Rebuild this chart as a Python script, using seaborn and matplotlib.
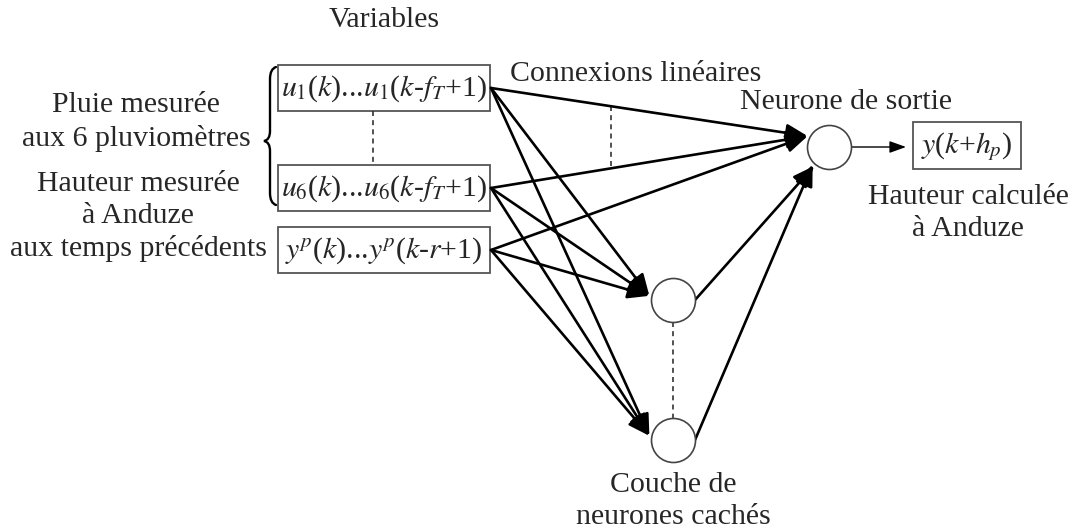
import numpy as np
import pandas as pd
import seaborn as sns
import matplotlib.pyplot as plt
from matplotlib.path import Path
import matplotlib.patches as mpatches

# --- labels of the diagram ---
title_text = "Variables"
input_labels = ["$u_1$($k$)...$u_1$($k$-$f_T$+1)",
                "$u_6$($k$)...$u_6$($k$-$f_T$+1)",
                "$y^p$($k$)...$y^p$($k$-$r$+1)"]
rain_lines = ["Pluie mesurée", "aux 6 pluviomètres"]
height_lines = ["Hauteur mesurée", "à Anduze", "aux temps précédents"]
links_text = "Connexions linéaires"
output_title = "Neurone de sortie"
output_label = "$y$($k$+$h_p$)"
output_lines = ["Hauteur calculée", "à Anduze"]
hidden_lines = ["Couche de", "neurones cachés"]
node_names = ["hidden_1", "hidden_n", "output"]

# --- layout (pixel space, y downwards) ---
W, H = 1078, 532
FS = 21.5
box_x0, box_x1 = 278, 490
box_y = [(65, 111), (165, 211), (227, 273)]
node_x = [673, 673, 829]
node_y = [300, 440, 147]
R = 22
out_box = (913, 122, 1021, 169)

sns.set_theme(style="white")
plt.rcParams['font.family'] = ['Liberation Serif', 'DejaVu Serif']
plt.rcParams['mathtext.fontset'] = 'stix'

fig = plt.figure(figsize=(W / 100, H / 100), dpi=100)
ax = fig.add_axes([0, 0, 1, 1])

nodes = pd.DataFrame({'name': node_names, 'x': node_x, 'y': node_y})
sns.scatterplot(data=nodes, x='x', y='y', s=(2 * R * 0.72) ** 2, marker='o',
                facecolor='white', edgecolor='#444444', linewidth=1.2,
                zorder=4, ax=ax, legend=False)

# input boxes
for (y0, y1), lab in zip(box_y, input_labels):
    ax.add_patch(mpatches.Rectangle((box_x0, y0), box_x1 - box_x0, y1 - y0,
                                    fill=False, ec='#555555', lw=1.3))
    ax.text((box_x0 + box_x1) / 2, (y0 + y1) / 2 + 1, lab, fontsize=FS,
            ha='center', va='center')

# output box
ox0, oy0, ox1, oy1 = out_box
ax.add_patch(mpatches.Rectangle((ox0, oy0), ox1 - ox0, oy1 - oy0,
                                fill=False, ec='#555555', lw=1.3))
ax.text((ox0 + ox1) / 2, (oy0 + oy1) / 2 + 1, output_label, fontsize=FS,
        ha='center', va='center')


def port(i, ang, gap=2):
    a = np.deg2rad(ang)
    return node_x[i] + (R + gap) * np.cos(a), node_y[i] + (R + gap) * np.sin(a)


def arrow(p0, p1, lw=1.9, hl=0.65, hw=0.27):
    ax.annotate("", xy=p1, xytext=p0,
                arrowprops=dict(arrowstyle=f"-|>,head_length={hl},head_width={hw}",
                                color='black', lw=lw, shrinkA=0, shrinkB=0,
                                mutation_scale=20), zorder=3)


starts = [(box_x1 + 1, (y0 + y1) / 2) for y0, y1 in box_y]
for s in starts:
    arrow(s, port(0, 190))
    arrow(s, port(1, 190))
    arrow(s, port(2, 207))
arrow(port(0, 0, 0), port(2, 128))
arrow(port(1, 0, 0), port(2, 133))

# output arrow
arrow(port(2, 0, 0), (ox0 - 7, node_y[2]), lw=1.0, hl=0.5, hw=0.18)

# dotted lines
dot = dict(color='#333333', lw=1.2, ls=(0, (3, 2.5)))
ax.plot([373, 373], [box_y[0][1], box_y[1][0]], **dot)
ax.plot([node_x[0]] * 2, [node_y[0] + R, node_y[1] - R], **dot)
xd = 611
end = port(2, 207)
ya = starts[0][1] + (end[1] - starts[0][1]) * (xd - starts[0][0]) / (end[0] - starts[0][0])
yb = starts[1][1] + (end[1] - starts[1][1]) * (xd - starts[1][0]) / (end[0] - starts[1][0])
ax.plot([xd, xd], [ya, yb], **dot)

# curly brace
bx, top, bot, tip = 270, 67, 205, 141
verts = [(bx + 6, top),
         (bx, top + 2), (bx, top + 12),
         (bx, tip - 10),
         (bx, tip - 1), (bx - 6, tip),
         (bx, tip + 1), (bx, tip + 10),
         (bx, bot - 12),
         (bx, bot - 2), (bx + 6, bot)]
codes = [Path.MOVETO,
         Path.CURVE3, Path.CURVE3,
         Path.LINETO,
         Path.CURVE3, Path.CURVE3,
         Path.CURVE3, Path.CURVE3,
         Path.LINETO,
         Path.CURVE3, Path.CURVE3]
ax.add_patch(mpatches.PathPatch(Path(verts, codes), fill=False, lw=1.7,
                                ec='black', capstyle='round'))

# labels
ax.text(384, 20, title_text, fontsize=FS, ha='center', va='center')
for t, y in zip(rain_lines, [105, 139]):
    ax.text(136, y, t, fontsize=FS, ha='center', va='center')
for t, y in zip(height_lines, [184, 216, 249]):
    ax.text(138, y, t, fontsize=FS, ha='center', va='center')
ax.text(636, 74, links_text, fontsize=FS, ha='center', va='center')
ax.text(846, 102, output_title, fontsize=FS, ha='center', va='center')
for t, y in zip(output_lines, [197, 229]):
    ax.text(968, y, t, fontsize=FS, ha='center', va='center')
for t, y in zip(hidden_lines, [485, 517]):
    ax.text(673, y, t, fontsize=FS, ha='center', va='center')

ax.set_xlim(0, W)
ax.set_ylim(H, 0)
ax.axis('off')
fig.savefig("out.png", dpi=100, facecolor='white')
